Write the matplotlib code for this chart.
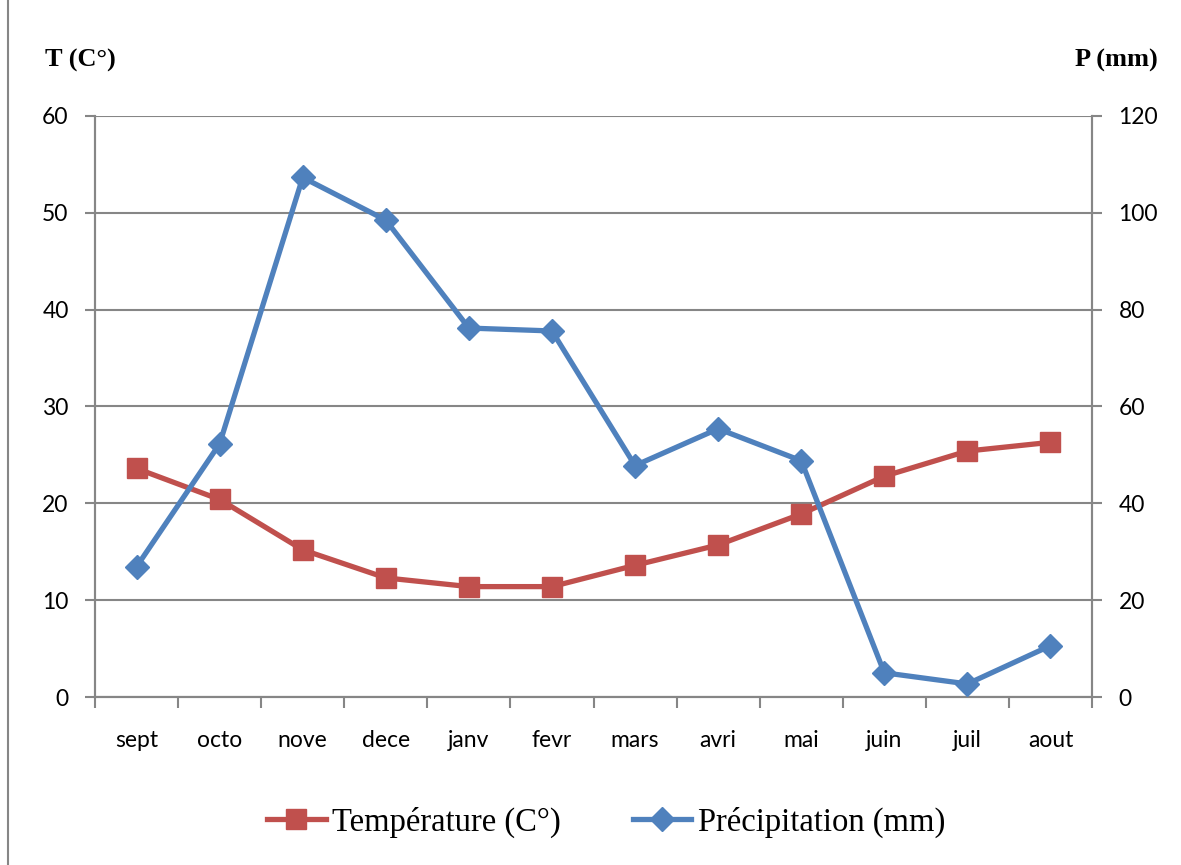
import matplotlib
matplotlib.use('Agg')
import matplotlib.pyplot as plt
from matplotlib.patches import Rectangle

# Monthly data (Sept -> Aug)
months = ['sept', 'octo', 'nove', 'dece', 'janv', 'fevr', 'mars', 'avri', 'mai', 'juin', 'juil', 'aout']
temperature = [23.6, 20.4, 15.2, 12.3, 11.4, 11.4, 13.6, 15.7, 18.9, 22.8, 25.4, 26.3]
precipitation = [26.9, 52.3, 107.3, 98.5, 76.2, 75.6, 47.8, 55.4, 48.8, 5.0, 2.7, 10.6]
t_ticks = [0, 10, 20, 30, 40, 50, 60]
p_ticks = [0, 20, 40, 60, 80, 100, 120]

RED = '#C0504D'
BLUE = '#4F81BD'
GRID = '#868686'
TICK_FONT = 'Lato'
SERIF = 'Liberation Serif'

fig = plt.figure(figsize=(11.81, 8.65), dpi=100)
ax = fig.add_axes([95 / 1181, 1 - 697 / 865, (1092 - 95) / 1181, (697 - 116) / 865])
ax2 = ax.twinx()

x = list(range(len(months)))

# Gridlines (left scale)
ax.set_ylim(0, 60)
ax.set_yticks(t_ticks)
ax.yaxis.grid(True, color=GRID, linewidth=1.5)
ax.set_axisbelow(True)
ax.set_xlim(-0.5, len(months) - 0.5)
ax.set_xticks(x)
ax.set_xticklabels(months)
ax.set_xticks([i - 0.5 for i in range(len(months) + 1)], minor=True)
ax.tick_params(axis='x', which='major', length=0, pad=24, labelsize=16.5)
ax.tick_params(axis='x', which='minor', length=8, width=1.5, color=GRID, direction='out')
ax.tick_params(axis='y', length=7, width=1.5, color=GRID, pad=12, labelsize=16.5)
for lab in ax.get_xticklabels() + ax.get_yticklabels():
    lab.set_fontfamily(TICK_FONT)

ax2.set_ylim(0, 120)
ax2.set_yticks(p_ticks)
ax2.tick_params(axis='y', length=7, width=1.5, color=GRID, pad=12, labelsize=16.5)
for lab in ax2.get_yticklabels():
    lab.set_fontfamily(TICK_FONT)

for a in (ax, ax2):
    a.spines['top'].set_visible(False)
    for s in ('left', 'right', 'bottom'):
        a.spines[s].set_color(GRID)
        a.spines[s].set_linewidth(1.5)

l1, = ax.plot(x, temperature, color=RED, linewidth=3.8, marker='s', markersize=15,
              markerfacecolor=RED, markeredgecolor=RED, label='Température (C°)', zorder=3)
l2, = ax2.plot(x, precipitation, color=BLUE, linewidth=3.8, marker='D', markersize=12.5,
               markerfacecolor=BLUE, markeredgecolor=BLUE, label='Précipitation (mm)', zorder=4)

# Axis titles
fig.text(45 / 1181, 1 - 60 / 865, 'T (C°)', fontsize=19, fontweight='bold',
         fontfamily=SERIF, ha='left', va='center')
fig.text(1158 / 1181, 1 - 60 / 865, 'P (mm)', fontsize=19, fontweight='bold',
         fontfamily=SERIF, ha='right', va='center')

fig.legend(handles=[l1, l2], loc='center', bbox_to_anchor=(606 / 1181, 1 - 822 / 865), ncol=2,
           frameon=False, prop={'family': SERIF, 'size': 23.5}, handlelength=1.8,
           handletextpad=0.2, columnspacing=2.2, markerscale=0.95)

# Outer chart border (only the left edge falls inside the picture)
fig.patches.append(Rectangle((8 / 1181, -0.01), 1.05, 1.05,
                             transform=fig.transFigure, fill=False,
                             edgecolor=GRID, linewidth=1.5))

fig.savefig('out.png', dpi=100)
